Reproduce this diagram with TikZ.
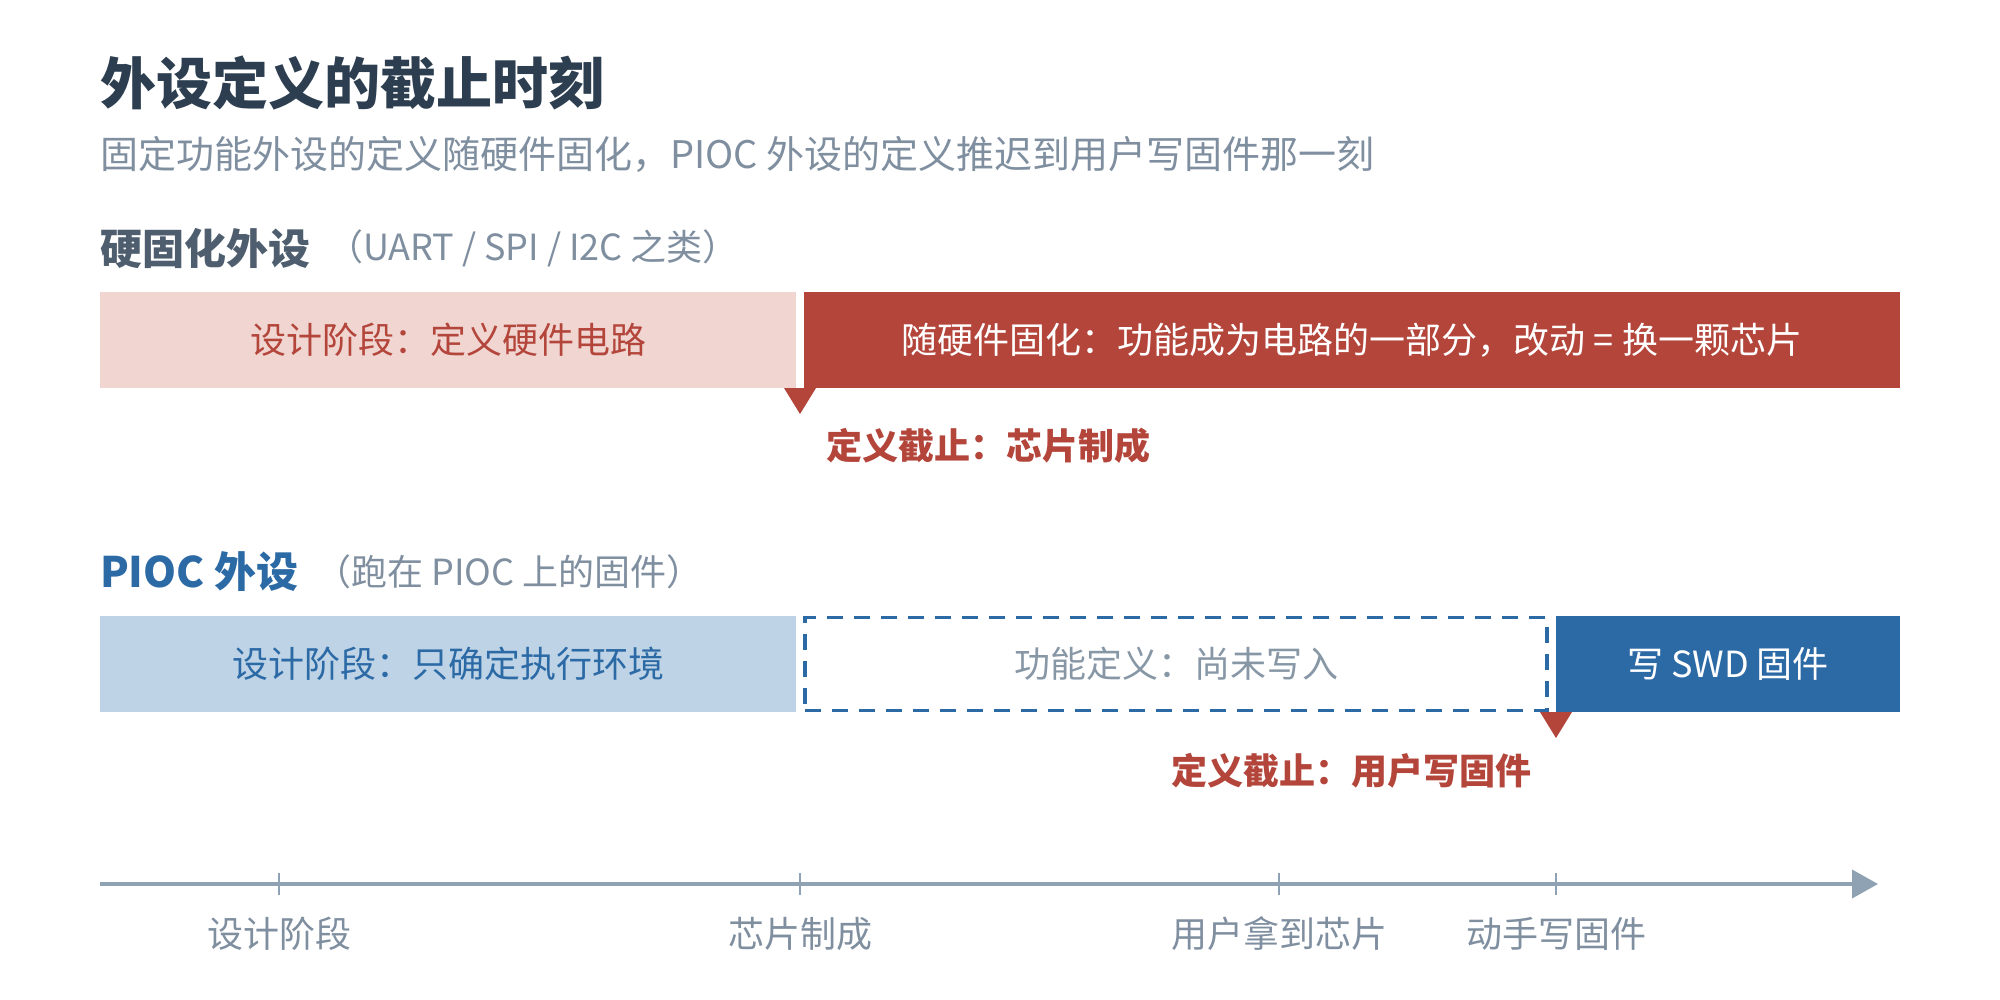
\documentclass[tikz,border=0pt]{standalone}
\usepackage{fontspec}
\setmainfont{Noto Sans CJK SC}
\usetikzlibrary{positioning,arrows.meta}

\definecolor{titleink}{HTML}{2C3E50}
\definecolor{subgray}{HTML}{7F8FA0}
\definecolor{headgray}{HTML}{4E5E6E}
\definecolor{cutred}{HTML}{B3453B}
\definecolor{cutpink}{HTML}{F0D5D1}
\definecolor{piocblue}{HTML}{2C6AA6}
\definecolor{paleblue}{HTML}{BED3E6}
\definecolor{emptygray}{HTML}{8797A6}
\definecolor{axisgray}{HTML}{8FA2B4}

\begin{document}
\begin{tikzpicture}[
			x = 1pt, y = -1pt,
			every node/.style = {inner sep = 0pt, outer sep = 0pt},
			title/.style = {font = \fontsize{56}{60}\selectfont\bfseries, text = titleink},
			subtitle/.style = {font = \fontsize{38}{42}\selectfont, text = subgray},
			rowhead/.style = {font = \fontsize{42}{46}\selectfont\bfseries},
			rownote/.style = {font = \fontsize{36}{40}\selectfont, text = subgray},
			bar/.style = {font = \fontsize{36}{40}\selectfont, minimum height = 96pt, anchor = north west},
			cutlabel/.style = {font = \fontsize{36}{40}\selectfont\bfseries, text = cutred},
			axlabel/.style = {font = \fontsize{36}{40}\selectfont, text = subgray}
		]

			\path[use as bounding box, fill = white] (0,0) rectangle (2000,1000);

			\node[title, anchor = west] (title) at (100,83) {外设定义的截止时刻};
			\node[subtitle, anchor = west] (subtitle) at (100,154) {固定功能外设的定义随硬件固化，PIOC 外设的定义推迟到用户写固件那一刻};

			\node[rowhead, text = headgray, anchor = west] (hwhead) at (100,248) {硬固化外设};
			\node[rownote, right = 17pt of hwhead] (hwnote) {（UART / SPI / I2C 之类）};

			\node[bar, fill = cutpink, text = cutred, minimum width = 696pt] (hwdesign) at (100,292) {设计阶段：定义硬件电路};
			\node[bar, fill = cutred, text = white, minimum width = 1096pt, right = 8pt of hwdesign] (hwfixed) {随硬件固化：功能成为电路的一部分，改动 = 换一颗芯片};

			\coordinate (hwcut) at (800,388);
			\fill[cutred] (hwcut) ++(-16,0) -- ++(32,0) -- ++(-16,26) -- cycle;
			\node[cutlabel, anchor = west] (hwcutlabel) at (826,446) {定义截止：芯片制成};

			\node[rowhead, text = piocblue, anchor = west] (piochead) at (100,572) {PIOC 外设};
			\node[rownote, right = 17pt of piochead] (piocnote) {（跑在 PIOC 上的固件）};

			\node[bar, fill = paleblue, text = piocblue, minimum width = 696pt] (piocdesign) at (100,616) {设计阶段：只确定执行环境};
			\node[bar, draw = piocblue, line width = 3.5pt, dash pattern = on 16pt off 11pt, text = emptygray,
				minimum width = 742pt, minimum height = 93pt] (piocempty) at (805,617.5) {功能定义：尚未写入};
			\node[bar, fill = piocblue, text = white, minimum width = 344pt] (piocswd) at (1556,616) {写 SWD 固件};

			\coordinate (piocut) at (1556,712);
			\fill[cutred] (piocut) ++(-16,0) -- ++(32,0) -- ++(-16,26) -- cycle;
			\node[cutlabel, anchor = east] (piocutlabel) at (1531,771) {定义截止：用户写固件};

			\coordinate (tstart) at (100,884);
			\coordinate (tend) at (1878,884);
			\draw[axisgray, line width = 4pt, -{Triangle[length = 26pt, width = 28pt]}] (tstart) -- (tend);
			\foreach \x/\name/\lbl in {279/design/设计阶段, 800/fab/芯片制成, 1279/ship/用户拿到芯片, 1556/flash/动手写固件}{
				\draw[axisgray, line width = 2pt] (\x,873) -- (\x,895);
				\node[axlabel] (t\name) at (\x,934) {\lbl};
			}

		\end{tikzpicture}
\end{document}
